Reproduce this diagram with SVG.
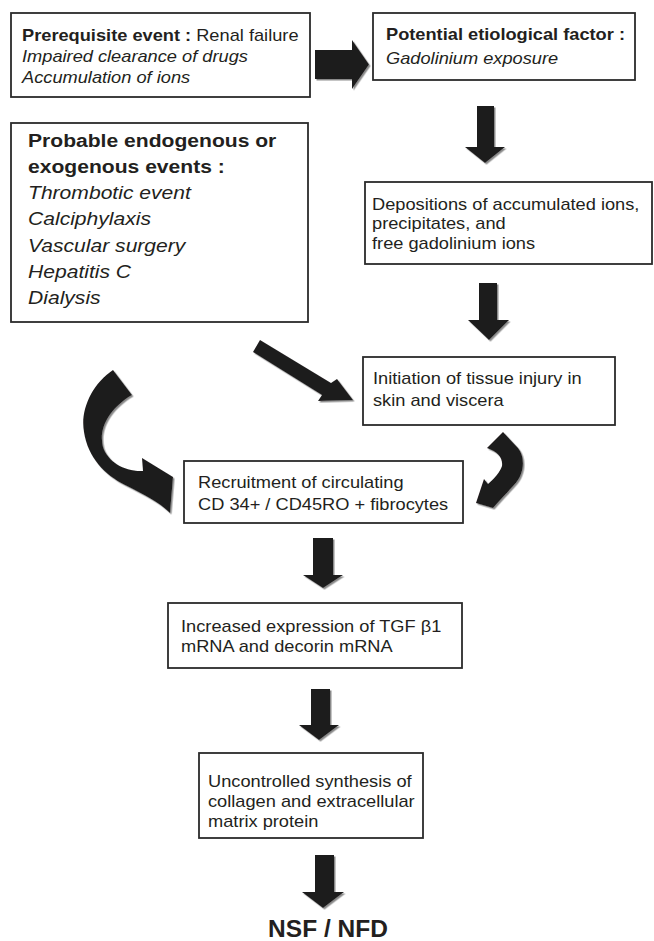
<svg xmlns="http://www.w3.org/2000/svg" width="654" height="941" viewBox="0 0 654 941">
<style>
.box{fill:#fff;stroke:#2b2b2b;stroke-width:1.8}
.t{font-family:"Liberation Sans",Arial,sans-serif;font-size:16px;fill:#231f20}
.big{font-size:18.5px}
.b{font-weight:bold}
.i{font-style:italic}
.arr{fill:#1f1c1d;filter:url(#sh)}
</style>
<defs>
<filter id="sh" x="-20%" y="-20%" width="150%" height="150%">
<feDropShadow dx="1.5" dy="1.5" stdDeviation="0.6" flood-color="#8a8a8a" flood-opacity="1"/>
</filter>
</defs>
<rect width="654" height="941" fill="#fff"/>

<g id="connectors">
<path class="arr" d="M315,50 L352,50 L352,40 L369,64.5 L352,89 L352,79 L315,79 Z"/>
<path class="arr" d="M477,106 L494,106 L494,147 L505,147 L485,163 L465,147 L477,147 Z"/>
<path class="arr" d="M479,283 L497,283 L497,320 L509,320 L489,340 L468,320 L479,320 Z"/>
<path class="arr" d="M260,340 L331,383 L337,379 L353,400 L318,401 L322,395 L253,352 Z"/>
<path class="arr" d="M113,370 C92,384 80,410 84,432 C88,458 105,475 125,485 C145,495 160,503 170,513 L173,477 L142,458 L143,471 C125,472 108,462 103,447 C98,428 110,408 132,395 Z"/>
<path class="arr" d="M503,432 L518,448 C526,458 524,475 514,485 C507,493 500,500 493,508 L476,503 L484,479 L488,484 C495,478 500,472 502,466 C503,458 498,452 487,448 Z"/>
<path class="arr" d="M313,538 L333,538 L333,575 L343,575 L323,588 L303,575 L313,575 Z"/>
<path class="arr" d="M311,689 L330,689 L330,725 L339,725 L319,740 L299,725 L311,725 Z"/>
<path class="arr" d="M315,855 L334,855 L334,892 L344,892 L323,908 L302,892 L315,892 Z"/>
</g>

<g id="prerequisite">
<rect class="box" x="11" y="13" width="299" height="84"/>
<text class="t" transform="translate(22,40.5) scale(1.14,1)"><tspan class="b">Prerequisite event :</tspan> Renal failure<tspan class="i" x="0" dy="21.5">Impaired clearance of drugs</tspan><tspan class="i" x="0" dy="21.5">Accumulation of ions</tspan></text>
</g>

<g id="etiological">
<rect class="box" x="373" y="13" width="262" height="67"/>
<text class="t" transform="translate(386,39.5) scale(1.14,1)"><tspan class="b">Potential etiological factor :</tspan><tspan class="i" x="0" dy="24.5">Gadolinium exposure</tspan></text>
</g>

<g id="probable">
<rect class="box" x="11" y="123" width="297" height="199"/>
<text class="t big" transform="translate(28,146.7) scale(1.14,1)"><tspan class="b">Probable endogenous or</tspan><tspan class="b" x="0" dy="26.25">exogenous events :</tspan><tspan class="i" x="0" dy="26.25">Thrombotic event</tspan><tspan class="i" x="0" dy="26.25">Calciphylaxis</tspan><tspan class="i" x="0" dy="26.25">Vascular surgery</tspan><tspan class="i" x="0" dy="26.25">Hepatitis C</tspan><tspan class="i" x="0" dy="26.25">Dialysis</tspan></text>
</g>

<g id="depositions">
<rect class="box" x="365" y="182" width="287" height="82"/>
<text class="t" transform="translate(372,210) scale(1.14,1)">Depositions of accumulated ions,<tspan x="0" dy="19.5">precipitates, and</tspan><tspan x="0" dy="19.5">free gadolinium ions</tspan></text>
</g>

<g id="initiation">
<rect class="box" x="363" y="357" width="252" height="68"/>
<text class="t" transform="translate(373,384) scale(1.14,1)">Initiation of tissue injury in<tspan x="0" dy="22">skin and viscera</tspan></text>
</g>

<g id="recruitment">
<rect class="box" x="184" y="461" width="279" height="62"/>
<text class="t" transform="translate(198,488) scale(1.14,1)">Recruitment of circulating<tspan x="0" dy="22">CD 34+ / CD45RO + fibrocytes</tspan></text>
</g>

<g id="expression">
<rect class="box" x="168" y="603" width="294" height="65"/>
<text class="t" transform="translate(181,631.5) scale(1.14,1)">Increased expression of TGF β1<tspan x="0" dy="21">mRNA and decorin mRNA</tspan></text>
</g>

<g id="synthesis">
<rect class="box" x="199" y="753" width="224" height="85"/>
<text class="t" transform="translate(208,787) scale(1.14,1)">Uncontrolled synthesis of<tspan x="0" dy="20">collagen and extracellular</tspan><tspan x="0" dy="20">matrix protein</tspan></text>
</g>

<g id="nsf">
<text class="t b" x="328" y="937" text-anchor="middle" style="font-size:24.5px">NSF / NFD</text>
</g>
</svg>
